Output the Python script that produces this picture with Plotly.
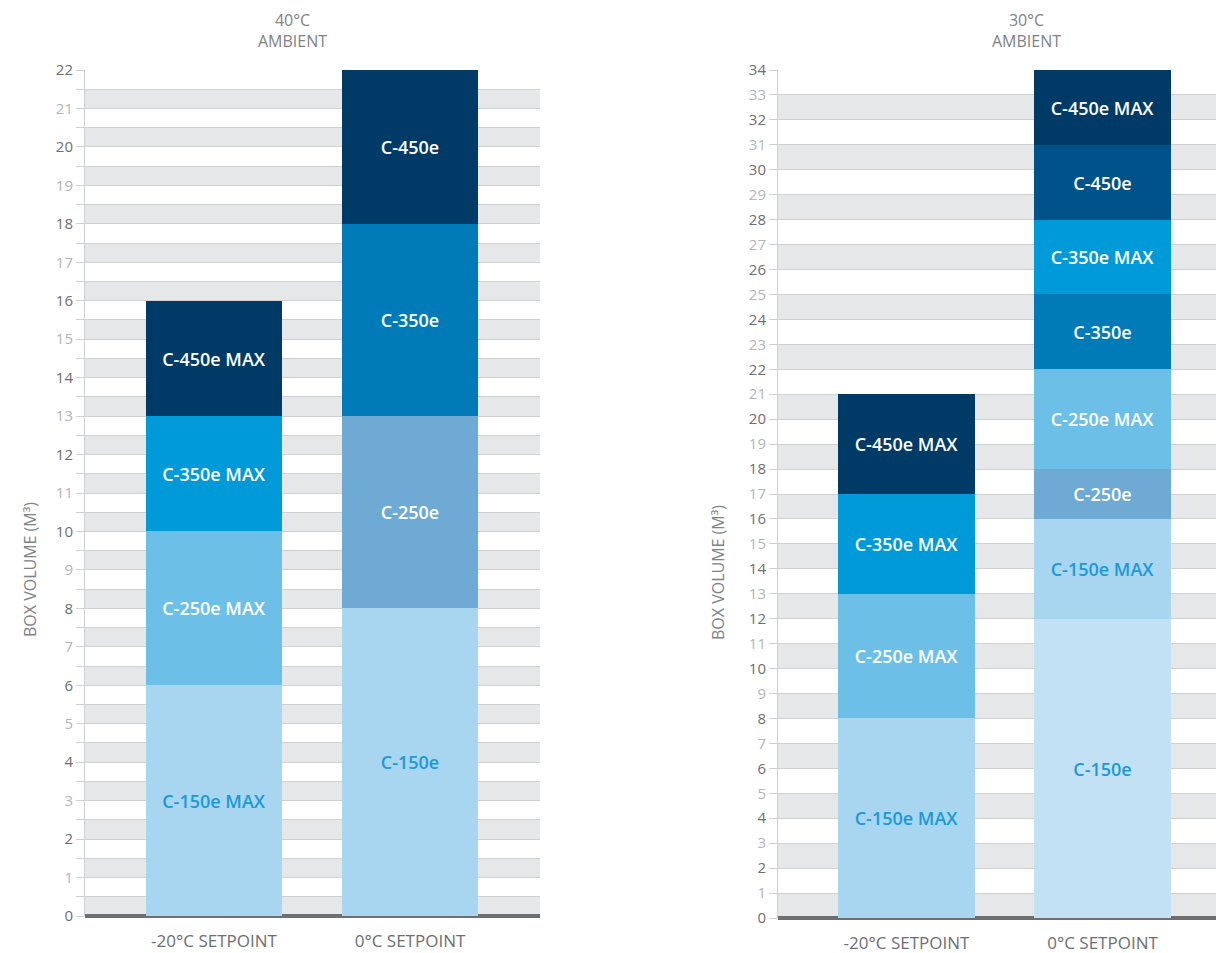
import plotly.graph_objects as go

categories = ["-20°C SETPOINT", "0°C SETPOINT"]

# Left panel (40°C ambient): segments stacked bottom to top
left_bar = [0, 0, 0, 0, 1, 1, 1, 1]
left_labels = ["C-150e MAX", "C-250e MAX", "C-350e MAX", "C-450e MAX",
               "C-150e", "C-250e", "C-350e", "C-450e"]
left_heights = [6, 4, 3, 3, 8, 5, 5, 4]

# Right panel (30°C ambient)
right_bar = [0, 0, 0, 0, 1, 1, 1, 1, 1, 1, 1, 1]
right_labels = ["C-150e MAX", "C-250e MAX", "C-350e MAX", "C-450e MAX",
                "C-150e", "C-150e MAX", "C-250e", "C-250e MAX",
                "C-350e", "C-350e MAX", "C-450e", "C-450e MAX"]
right_heights = [8, 5, 4, 4, 12, 4, 2, 4, 3, 3, 3, 3]

left_max = 22
right_max = 34

colors_left = {
    "C-150e MAX": "#a8d5ef", "C-150e": "#a8d5ef",
    "C-250e MAX": "#6cc0e8", "C-250e": "#6eaad3",
    "C-350e MAX": "#009ad8", "C-350e": "#007bb8",
    "C-450e MAX": "#003b67", "C-450e": "#003b67",
}
colors_right = dict(colors_left)
colors_right["C-150e"] = "#c3e1f4"
colors_right["C-450e"] = "#00528a"

W, H = 1224, 953
OFF = 8  # page body margin compensation
TXT_DARK = "#6d6e71"
TXT_LIGHT = "#b3b5b8"

def px(p):
    return (p - OFF) / W

def py(p):
    return 1 - (p - OFF) / H

fig = go.Figure()

def add_panel(bars, labels, heights, cmap, xa, ya):
    for b, lab, h in zip(bars, labels, heights):
        light = lab.startswith("C-150e")
        fig.add_trace(go.Bar(
            x=[b], y=[h], width=0.697, xaxis=xa, yaxis=ya,
            marker=dict(color=cmap[lab], line=dict(width=0)),
            text=[lab], textposition="inside", insidetextanchor="middle",
            textangle=0, constraintext="none",
            textfont=dict(family="Open Sans", size=18, weight=600,
                          color="#1b9ad6" if light else "white"),
            showlegend=False, hoverinfo="skip",
        ))

add_panel(left_bar, left_labels, left_heights, colors_left, "x", "y")
add_panel(right_bar, right_labels, right_heights, colors_right, "x2", "y2")

def ticktexts(n):
    out = []
    for v in range(n + 1):
        c = TXT_DARK if v % 2 == 0 else TXT_LIGHT
        out.append(f'<span style="color:{c}">{v}</span>')
    return out

yaxis_common = dict(
    showline=True, linecolor="#cfd0d2", linewidth=1,
    ticks="outside", ticklen=8, tickcolor="#cfd0d2", tickwidth=1,
    tickfont=dict(family="Open Sans", size=15, color=TXT_DARK),
    showgrid=True, gridcolor="#cfd0d2", gridwidth=1,
    zeroline=True, zerolinecolor="#6d6e71", zerolinewidth=4,
    fixedrange=True, automargin=False,
)
xaxis_common = dict(
    showgrid=False, zeroline=False, ticks="outside", ticklen=10,
    tickcolor="rgba(0,0,0,0)", showline=False, automargin=False,
    tickfont=dict(family="Open Sans", size=17, color=TXT_DARK),
)

fig.update_layout(
    width=W, height=H,
    margin=dict(l=0, r=0, t=0, b=0, autoexpand=False),
    paper_bgcolor="white", plot_bgcolor="white",
    barmode="stack", bargap=0,
    xaxis=dict(domain=[px(85), px(540)], range=[-129 / 196, 326 / 196],
               tickvals=[0, 1], ticktext=categories, anchor="y", **xaxis_common),
    yaxis=dict(domain=[py(916), py(70)], range=[0, left_max],
               tickvals=list(range(left_max + 1)), ticktext=ticktexts(left_max),
               minor=dict(dtick=0.5, showgrid=True, gridcolor="#cfd0d2",
                          ticks="outside", ticklen=8, tickcolor="#cfd0d2"),
               anchor="x", **yaxis_common),
    xaxis2=dict(domain=[px(778), 1.0], range=[-128.5 / 196, (1224 + OFF - 906.5) / 196],
                tickvals=[0, 1], ticktext=categories, anchor="y2", **xaxis_common),
    yaxis2=dict(domain=[py(918), py(70)], range=[0, right_max],
                tickvals=list(range(right_max + 1)), ticktext=ticktexts(right_max),
                anchor="x2", **yaxis_common),
)

# alternating background bands
shapes = []
k = 0.0
while k < left_max:
    shapes.append(dict(type="rect", xref="x domain", yref="y", x0=0, x1=1,
                       y0=k, y1=k + 0.5, fillcolor="#e6e7e8", line=dict(width=0),
                       layer="below"))
    k += 1.0
for k in range(0, right_max, 2):
    shapes.append(dict(type="rect", xref="x2 domain", yref="y2", x0=0, x1=1,
                       y0=k, y1=k + 1, fillcolor="#e6e7e8", line=dict(width=0),
                       layer="below"))
fig.update_layout(shapes=shapes)

title_font = dict(family="Open Sans", size=16, color="#808285")
for cx, temp in [(292, "40°C"), (1026, "30°C")]:
    fig.add_annotation(text=f"{temp}<br>AMBIENT", x=px(cx), y=1.0, xref="paper", yref="paper",
                       xanchor="center", yanchor="top", borderpad=0,
                       showarrow=False, font=title_font)
fig.add_annotation(text="BOX VOLUME (M³)", x=px(30), y=py(570), xref="paper", yref="paper",
                   xanchor="center", yanchor="middle",
                   textangle=-90, showarrow=False, font=title_font)
fig.add_annotation(text="BOX VOLUME (M³)", x=px(718), y=py(573), xref="paper", yref="paper",
                   xanchor="center", yanchor="middle",
                   textangle=-90, showarrow=False, font=title_font)

fig.write_html("out.html")
